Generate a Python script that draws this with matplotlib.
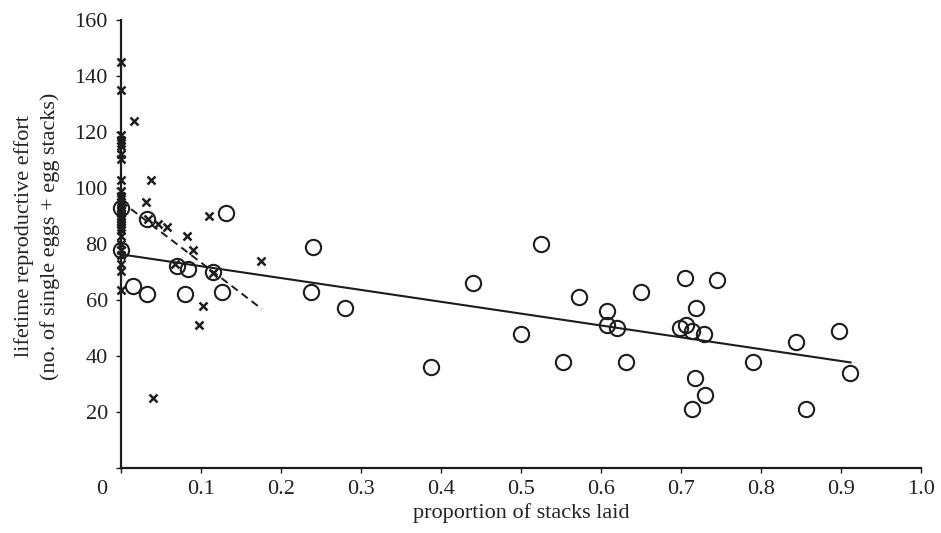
import matplotlib
matplotlib.use("Agg")
import matplotlib.pyplot as plt
from matplotlib.transforms import ScaledTranslation

# ---- data ----
# crosses (birds laying mostly single eggs)
cross_x = [0, 0, 0, 0, 0, 0, 0, 0, 0, 0, 0, 0, 0, 0, 0, 0, 0, 0, 0, 0,
           0, 0, 0, 0, 0, 0, 0, 0, 0, 0,
           0.016, 0.038, 0.031, 0.034, 0.046, 0.058, 0.083, 0.090, 0.110,
           0.068, 0.115, 0.103, 0.098, 0.175, 0.040]
cross_y = [145, 135, 119, 117, 116, 115, 112, 110.5, 103, 99, 97, 96, 95, 94,
           93, 92, 91, 90, 89, 88, 87, 86, 85, 83, 80, 78, 76, 73, 70.5, 63.5,
           124, 103, 95, 89, 87, 86, 83, 78, 90,
           73, 69.5, 58, 51, 74, 25]

# circles
circ_x = [0, 0, 0.032, 0.015, 0.032, 0.070, 0.084, 0.080, 0.115, 0.126, 0.131,
          0.240, 0.2375, 0.280, 0.388, 0.440, 0.500, 0.525, 0.552, 0.573,
          0.607, 0.607, 0.620, 0.631, 0.650, 0.699, 0.705, 0.706, 0.714,
          0.714, 0.718, 0.719, 0.729, 0.730, 0.745, 0.790, 0.844, 0.856,
          0.898, 0.911]
circ_y = [93, 78, 89, 65, 62, 72, 71, 62, 70, 63, 91,
          79, 63, 57, 36, 66, 48, 80, 38, 61,
          56, 51, 50, 38, 63, 50, 68, 51, 49,
          21, 32, 57, 48, 26, 67, 38, 45, 21,
          49, 34]

# regression lines (end points)
solid_x = [0.0, 0.912]
solid_y = [76.3, 37.7]
dash_x = [0.0, 0.176]
dash_y = [95.2, 56.8]

x_ticks = [0, 0.1, 0.2, 0.3, 0.4, 0.5, 0.6, 0.7, 0.8, 0.9, 1.0]
x_labels = ["0", "0.1", "0.2", "0.3", "0.4", "0.5", "0.6", "0.7", "0.8", "0.9", "1.0"]
y_ticks = [0, 20, 40, 60, 80, 100, 120, 140, 160]
y_labels = ["", "20", "40", "60", "80", "100", "120", "140", "160"]

# ---- plot ----
plt.rcParams['font.family'] = ['Liberation Serif', 'DejaVu Serif']
FS = 16
ink = '#1e1c1c'
txt = '#222222'

fig = plt.figure(figsize=(9.41, 5.33), dpi=100)
ax = fig.add_axes([121/941, 1 - 468/533, 800/941, 448/533])

ax.plot(solid_x, solid_y, color=ink, lw=1.5, zorder=2)
ax.plot(dash_x, dash_y, color=ink, lw=1.4, ls=(0, (4, 2.5)), zorder=2)
ax.plot(circ_x, circ_y, ls='none', marker='o', ms=11, mfc='none',
        mec=ink, mew=1.5, zorder=3, clip_on=False)
ax.plot(cross_x, cross_y, ls='none', marker='x', ms=6.2, mec=ink,
        mew=1.8, zorder=4, clip_on=False)

ax.set_xlim(0, 1.0)
ax.set_ylim(0, 160)
ax.set_xticks(x_ticks)
ax.set_xticklabels(x_labels)
ax.set_yticks(y_ticks)
ax.set_yticklabels(y_labels)

for s in ['top', 'right']:
    ax.spines[s].set_visible(False)
for s in ['left', 'bottom']:
    ax.spines[s].set_linewidth(1.6)
    ax.spines[s].set_color(ink)

ax.tick_params(axis='both', direction='out', length=3.5, width=1.0,
               colors=ink, labelsize=FS, labelcolor=txt)
ax.tick_params(axis='y', pad=6)
ax.tick_params(axis='x', pad=5)

# shift the shared origin "0" label to the left
lbl0 = ax.get_xticklabels()[0]
lbl0.set_transform(lbl0.get_transform() + ScaledTranslation(-0.19, 0, fig.dpi_scale_trans))

ax.set_xlabel("proportion of stacks laid", fontsize=FS, color=txt, labelpad=3)
fig.text(37/941, 1 - 236/533,
         "lifetime reproductive effort\n(no. of single eggs + egg stacks)",
         rotation=90, ha='center', va='center', multialignment='center',
         fontsize=FS, color=txt, linespacing=1.45)

fig.savefig("out.png", dpi=100)
